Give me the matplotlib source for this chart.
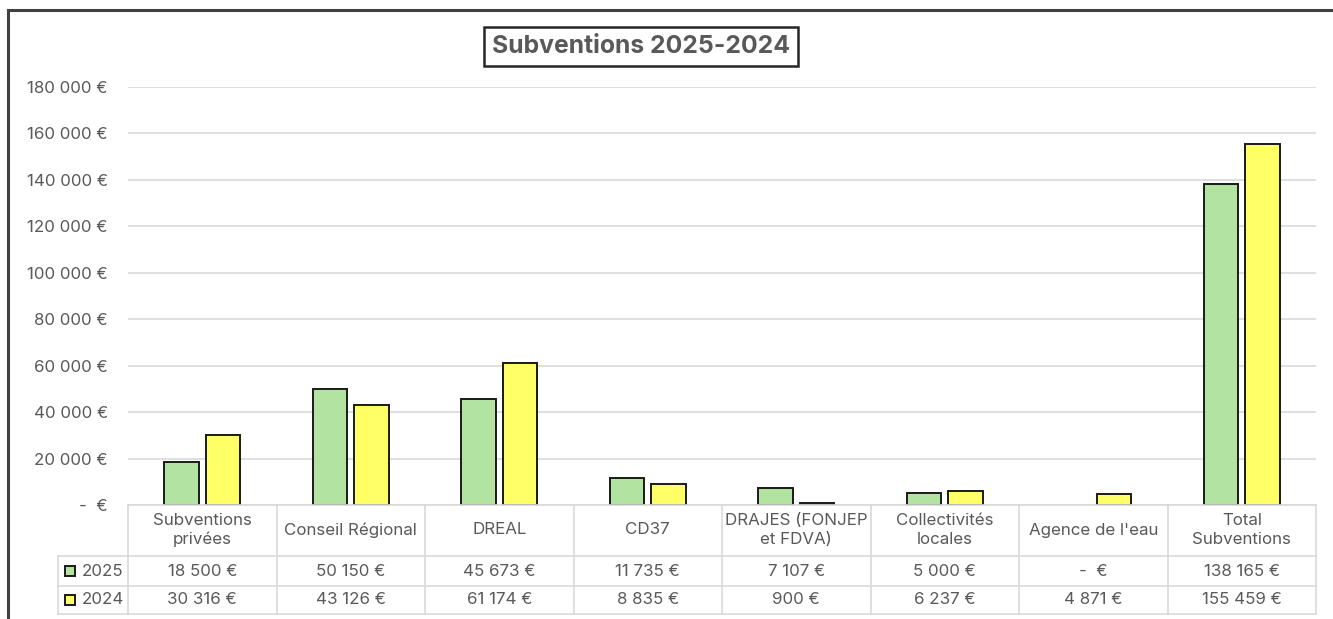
import numpy as np
import matplotlib.pyplot as plt
from matplotlib.patches import Rectangle

# chart data
categories = ['Subventions\nprivées', 'Conseil Régional', 'DREAL', 'CD37',
              'DRAJES (FONJEP\net FDVA)', 'Collectivités\nlocales',
              "Agence de l'eau", 'Total\nSubventions']
v2025 = [18500, 50150, 45673, 11735, 7107, 5000, 0, 138165]
v2024 = [30316, 43126, 61174, 8835, 900, 6237, 4871, 155459]
years = ['2025', '2024']
yticks = [0, 20000, 40000, 60000, 80000, 100000, 120000, 140000, 160000, 180000]

green = '#b3e3a1'
yellow = '#ffff66'
txt = '#595959'
grid_c = '#d9d9d9'
fs = 12.2

plt.rcParams['font.family'] = ['Inter', 'DejaVu Sans']


def eur(v):
    if v == 0:
        return '-  €'
    return f'{v:,}'.replace(',', ' ') + ' €'


W, H = 1333, 619
fig = plt.figure(figsize=(W / 100, H / 100), dpi=100)

# outer frame
fig.patches.append(Rectangle((8 / W, -0.1), 2.0, 1 - 10 / H + 0.1, transform=fig.transFigure,
                             fill=False, edgecolor='#404040', linewidth=2.2))

x0, x1 = 128, 1316
ax = fig.add_axes([x0 / W, (H - 505) / H, (x1 - x0) / W, (505 - 87) / H])
x = np.arange(len(categories))
bw, off = 0.23, 0.14
m25 = [i for i, v in enumerate(v2025) if v > 0]
m24 = [i for i, v in enumerate(v2024) if v > 0]
ax.bar(x[m25] - off, [v2025[i] for i in m25], bw, color=green, edgecolor='#1a1a1a',
       linewidth=1.4, zorder=3)
ax.bar(x[m24] + off, [v2024[i] for i in m24], bw, color=yellow, edgecolor='#1a1a1a',
       linewidth=1.4, zorder=3)
ax.set_xlim(-0.5, len(categories) - 0.5)
ax.set_ylim(0, 180000)
ax.set_yticks(yticks)
ax.set_yticklabels([eur(v) for v in yticks], color=txt, fontsize=fs)
ax.tick_params(axis='y', length=0, pad=14.5)
ax.set_xticks([])
ax.grid(axis='y', color=grid_c, linewidth=1.2, zorder=0)
for s in ax.spines.values():
    s.set_visible(False)

fig.text(641 / W, 1 - 46.5 / H, 'Subventions 2025-2024', fontsize=17.8, fontweight='bold',
         color=txt, ha='center', va='center',
         bbox=dict(boxstyle='square,pad=0.32', facecolor='white', edgecolor='#262626',
                   linewidth=1.8))

# data table under the bars
tl = 58
tax = fig.add_axes([tl / W, (H - 614) / H, (x1 - tl) / W, 109 / H])
px = (x1 - x0) / len(categories)
left = -0.5 - (x0 - tl) / px
tax.set_xlim(left, len(categories) - 0.5)
tax.set_ylim(109, 0)
tax.axis('off')
rows = [0, 51, 81, 109]
lk = dict(color=grid_c, linewidth=1.2, clip_on=False)
tax.plot([-0.5, len(categories) - 0.5], [0, 0], **lk)
for r in rows[1:]:
    tax.plot([left, len(categories) - 0.5], [r, r], **lk)
for b in np.arange(len(categories) + 1) - 0.5:
    tax.plot([b, b], [0, 109], **lk)
tax.plot([left, left], [51, 109], **lk)

for i, c in enumerate(categories):
    tax.text(i, 25, c, ha='center', va='center', fontsize=fs, color=txt, linespacing=1.35)
    tax.text(i, 66, eur(v2025[i]), ha='center', va='center', fontsize=fs, color=txt)
    tax.text(i, 95, eur(v2024[i]), ha='center', va='center', fontsize=fs, color=txt)

for yr, col, yc in zip(years, [green, yellow], [66, 95]):
    tax.plot([left + 12 / px], [yc], marker='s', markersize=7.5, markerfacecolor=col,
             markeredgecolor='#1a1a1a', markeredgewidth=1.4, clip_on=False)
    tax.text(left + 24 / px, yc, yr, ha='left', va='center', fontsize=fs, color=txt)

fig.savefig('out.png', dpi=100)
